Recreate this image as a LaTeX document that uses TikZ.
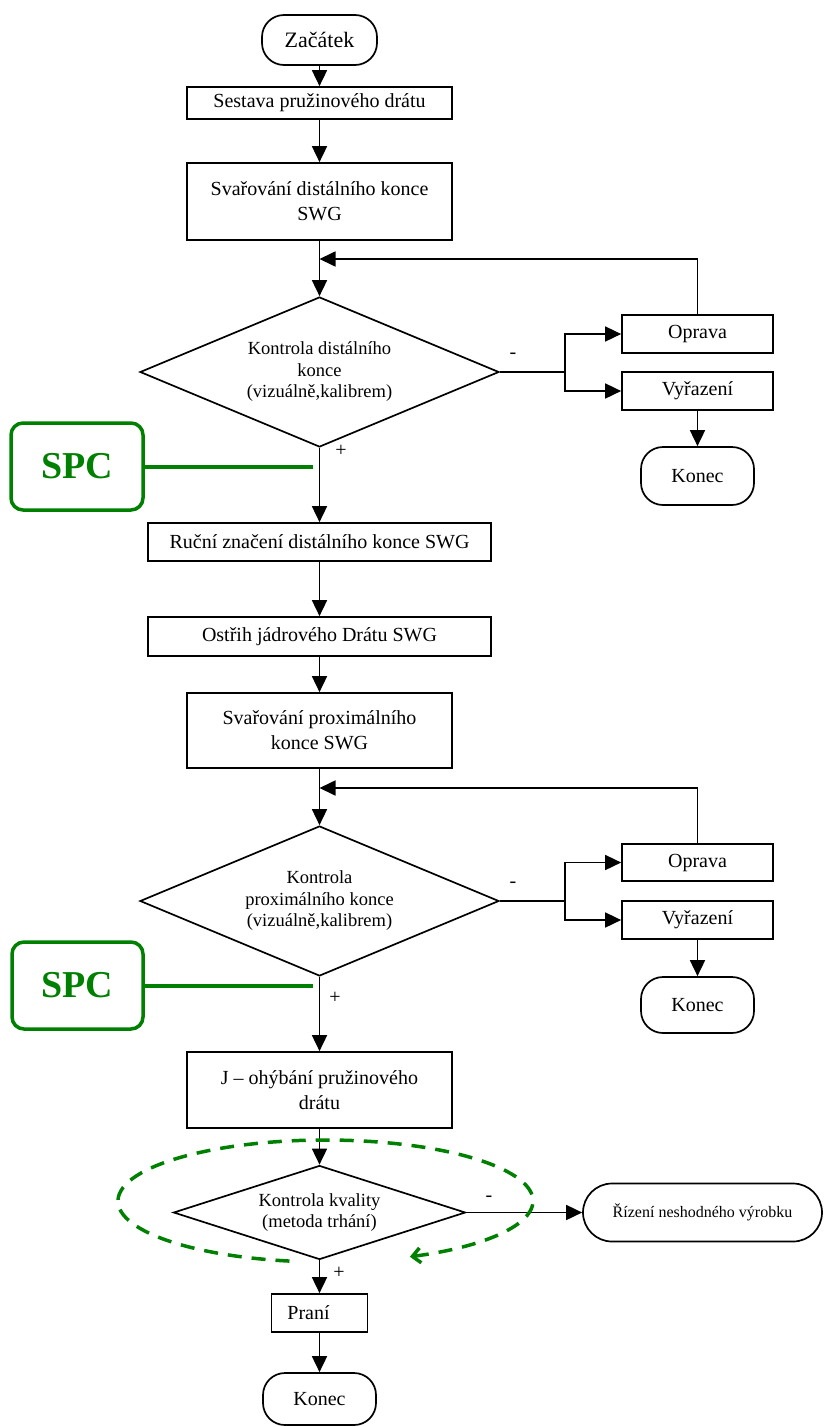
\documentclass[tikz,border=0pt]{standalone}
\usepackage{fontspec}
\setmainfont{Liberation Serif}
\usetikzlibrary{shapes.geometric,arrows.meta}
\definecolor{spcgreen}{RGB}{0,128,0}
\begin{document}
\begin{tikzpicture}[x=1pt,y=-1pt,
  ln/.style={line width=1.7pt},
  arr/.style={ln,-{Triangle[length=16pt,width=15pt]}},
  proc/.style={draw,ln,inner sep=0pt,align=center,font=\fontsize{20}{25}\selectfont},
  term/.style={proc,rounded corners=22pt},
  dec/.style={draw,ln,diamond,inner sep=0pt},
  dtext/.style={align=center,inner sep=0pt,font=\fontsize{18.5}{21.5}\selectfont},
  sign/.style={inner sep=0pt,font=\fontsize{20}{20}\selectfont},
  spcbox/.style={draw=spcgreen,line width=3.5pt,rounded corners=12pt,text=spcgreen,font=\fontsize{38}{38}\selectfont\bfseries,inner sep=0pt},
  spcline/.style={draw=spcgreen,line width=4pt},
]
\useasboundingbox (0,0) rectangle (824,1427);

% --- top part
\node[term,minimum width=115pt,minimum height=50pt,font=\fontsize{22}{26}\selectfont] (start) at (319.5,40) {Začátek};
\node[proc,minimum width=265pt,minimum height=32pt] (s1) at (319.5,103) {Sestava pružinového drátu};
\node[proc,minimum width=265pt,minimum height=77pt] (s2) at (319.5,201.5) {Svařování distálního konce\\SWG};
\coordinate (m1) at (319.5,259);
\node[dec,minimum width=359pt,minimum height=150pt] (d1) at (319.5,372) {};
\node[dtext] (d1t) at (d1) {Kontrola distálního\\konce\\(vizuálně,kalibrem)};
\node[sign] (d1m) at (513,356) {-};
\node[sign] (d1p) at (341,451) {+};
\coordinate (j1) at (565,372);
\node[proc,minimum width=151pt,minimum height=38pt] (o1) at (697.5,334) {Oprava};
\node[proc,minimum width=151pt,minimum height=38pt] (v1) at (697.5,391) {Vyřazení};
\node[term,minimum width=113pt,minimum height=58pt] (k1) at (697.5,476) {Konec};

\draw[arr] (start) -- (s1);
\draw[arr] (s1) -- (s2);
\draw[arr] (s2) -- (d1);
\draw[arr] (o1.north) |- (m1);
\draw[ln] (d1.east) -- (j1);
\draw[arr] (j1) |- (o1.west);
\draw[arr] (j1) |- (v1.west);
\draw[arr] (v1) -- (k1);

\node[spcbox,minimum width=132pt,minimum height=87pt] (spc1) at (77,466.5) {SPC};
\coordinate (e1) at (313,466.5);
\draw[spcline] (spc1.east) -- (e1);

% --- middle part
\node[proc,minimum width=343pt,minimum height=38pt] (r1) at (319.5,542) {Ruční značení distálního konce SWG};
\node[proc,minimum width=343pt,minimum height=39pt] (os) at (319.5,636.5) {Ostřih jádrového Drátu SWG};
\node[proc,minimum width=265pt,minimum height=75pt] (s3) at (319.5,730.5) {Svařování proximálního\\konce SWG};
\coordinate (m2) at (319.5,788);
\node[dec,minimum width=359pt,minimum height=150pt] (d2) at (319.5,901) {};
\node[dtext] (d2t) at (d2) {Kontrola\\proximálního konce\\(vizuálně,kalibrem)};
\node[sign] (d2m) at (513,885) {-};
\node[sign] (d2p) at (335,998) {+};
\coordinate (j2) at (565,901);
\node[proc,minimum width=151pt,minimum height=37pt] (o2) at (697.5,862.5) {Oprava};
\node[proc,minimum width=151pt,minimum height=38pt] (v2) at (697.5,920) {Vyřazení};
\node[term,minimum width=113pt,minimum height=56pt] (k2) at (697.5,1005) {Konec};

\draw[arr] (d1) -- (r1);
\draw[arr] (r1) -- (os);
\draw[arr] (os) -- (s3);
\draw[arr] (s3) -- (d2);
\draw[arr] (o2.north) |- (m2);
\draw[ln] (d2.east) -- (j2);
\draw[arr] (j2) |- (o2.west);
\draw[arr] (j2) |- (v2.west);
\draw[arr] (v2) -- (k2);

\node[spcbox,minimum width=131pt,minimum height=87pt] (spc2) at (77.5,985.5) {SPC};
\coordinate (e2) at (313,985.5);
\draw[spcline] (spc2.east) -- (e2);

% --- bottom part
\node[proc,minimum width=265pt,minimum height=76pt] (jb) at (319.5,1090) {J – ohýbání pružinového\\drátu};
\node[dec,minimum width=292pt,minimum height=94pt] (d3) at (319.5,1212.5) {};
\node[dtext] (d3t) at (d3) {Kontrola kvality\\(metoda trhání)};
\node[sign] (d3m) at (489,1199) {-};
\node[sign] (d3p) at (339,1273) {+};
\node[proc,rounded corners=29pt,minimum width=239pt,minimum height=58pt,font=\fontsize{16}{20}\selectfont] (rz) at (702.5,1212.5) {Řízení neshodného výrobku};
\node[proc,minimum width=96pt,minimum height=38pt] (pr) at (319.5,1313) {Praní\rule{22pt}{0pt}};
\node[term,minimum width=113pt,minimum height=52pt] (k3) at (319.5,1399) {Konec};

\draw[arr] (d2) -- (jb);
\draw[arr] (jb) -- (d3);
\draw[arr] (d3.east) -- (rz.west);
\draw[arr] (d3) -- (pr);
\draw[arr] (pr) -- (k3);

\draw[spcgreen,line width=3.5pt,dash pattern=on 14pt off 10pt,-{Straight Barb[length=8pt,width=15pt]}]
  (325.5,1201) ++(100:207.5 and 61) arc[start angle=100,end angle=426,x radius=207.5,y radius=61];
\end{tikzpicture}
\end{document}
